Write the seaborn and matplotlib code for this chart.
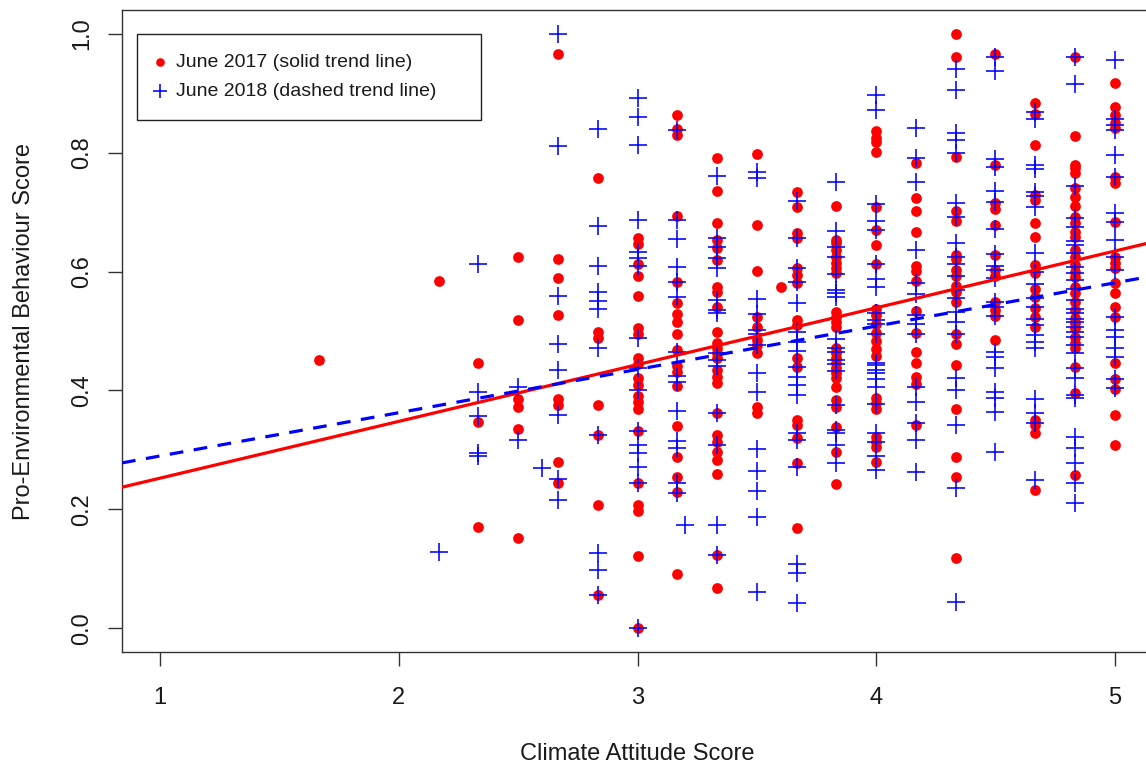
import numpy as np
import pandas as pd
import matplotlib
matplotlib.use("Agg")
import matplotlib.pyplot as plt
import seaborn as sns

# ==== Data ====
# June 2017 survey: climate attitude levels and the behaviour scores seen at each level
levels_2017 = [1.667, 2.167, 2.333, 2.5, 2.667, 2.833, 3.0, 3.167, 3.333, 3.5, 3.6,
               3.667, 3.833, 4.0, 4.167, 4.333, 4.5, 4.667, 4.833, 5.0]
scores_2017 = [
    [0.451],
    [0.584],
    [0.446, 0.347, 0.170],
    [0.625, 0.519, 0.386, 0.372, 0.335, 0.152],
    [0.966, 0.621, 0.589, 0.527, 0.386, 0.376, 0.279, 0.244],
    [0.758, 0.498, 0.488, 0.376, 0.325, 0.207, 0.056],
    [0.657, 0.647, 0.613, 0.593, 0.559, 0.505, 0.495, 0.454, 0.444, 0.421, 0.41,
     0.39, 0.38, 0.369, 0.332, 0.244, 0.207, 0.197, 0.121, 0.0],
    [0.864, 0.839, 0.83, 0.694, 0.582, 0.547, 0.528, 0.515, 0.495, 0.468, 0.441,
     0.431, 0.407, 0.34, 0.288, 0.254, 0.229, 0.091],
    [0.791, 0.736, 0.682, 0.653, 0.64, 0.62, 0.574, 0.566, 0.541, 0.498, 0.48,
     0.471, 0.463, 0.454, 0.434, 0.423, 0.412, 0.362, 0.325, 0.313, 0.296, 0.283,
     0.259, 0.123, 0.067],
    [0.798, 0.678, 0.601, 0.524, 0.507, 0.485, 0.476, 0.463, 0.372, 0.362],
    [0.574],
    [0.734, 0.709, 0.665, 0.657, 0.606, 0.594, 0.581, 0.519, 0.51, 0.454, 0.44,
     0.35, 0.342, 0.32, 0.278, 0.168],
    [0.71, 0.653, 0.648, 0.636, 0.625, 0.614, 0.606, 0.597, 0.532, 0.524, 0.515,
     0.507, 0.471, 0.463, 0.454, 0.446, 0.438, 0.429, 0.421, 0.406, 0.384, 0.372,
     0.338, 0.296, 0.242],
    [0.837, 0.825, 0.818, 0.801, 0.709, 0.67, 0.645, 0.613, 0.537, 0.527, 0.512,
     0.497, 0.483, 0.47, 0.458, 0.387, 0.379, 0.369, 0.322, 0.313, 0.305, 0.279],
    [0.783, 0.724, 0.702, 0.667, 0.609, 0.601, 0.584, 0.534, 0.497, 0.465, 0.446,
     0.423, 0.411, 0.342],
    [1.0, 0.961, 0.793, 0.702, 0.685, 0.628, 0.621, 0.603, 0.593, 0.576, 0.566,
     0.549, 0.495, 0.478, 0.443, 0.369, 0.288, 0.254, 0.118],
    [0.966, 0.779, 0.716, 0.706, 0.678, 0.628, 0.603, 0.593, 0.549, 0.535, 0.525,
     0.485],
    [0.884, 0.865, 0.813, 0.729, 0.721, 0.682, 0.658, 0.611, 0.598, 0.571, 0.557,
     0.539, 0.524, 0.507, 0.35, 0.342, 0.328, 0.232],
    [0.961, 0.828, 0.779, 0.774, 0.766, 0.741, 0.726, 0.71, 0.692, 0.682, 0.667,
     0.658, 0.636, 0.625, 0.611, 0.599, 0.591, 0.574, 0.564, 0.549, 0.535, 0.522,
     0.513, 0.505, 0.49, 0.48, 0.471, 0.439, 0.396, 0.258],
    [0.917, 0.877, 0.864, 0.85, 0.842, 0.759, 0.749, 0.684, 0.625, 0.614, 0.606,
     0.581, 0.564, 0.541, 0.524, 0.446, 0.419, 0.402, 0.359, 0.308],
]

# June 2018 survey
levels_2018 = [2.167, 2.333, 2.5, 2.6, 2.667, 2.833, 3.0, 3.167, 3.2, 3.333, 3.5,
               3.667, 3.833, 4.0, 4.167, 4.333, 4.5, 4.667, 4.833, 5.0]
scores_2018 = [
    [0.128],
    [0.613, 0.397, 0.357, 0.295, 0.29],
    [0.406, 0.317],
    [0.27],
    [1.0, 0.812, 0.559, 0.478, 0.434, 0.359, 0.251, 0.215],
    [0.839, 0.677, 0.609, 0.565, 0.55, 0.537, 0.472, 0.325, 0.127, 0.098, 0.056],
    [0.892, 0.86, 0.813, 0.686, 0.633, 0.623, 0.609, 0.488, 0.438, 0.40, 0.332,
     0.309, 0.295, 0.271, 0.244, 0.0],
    [0.838, 0.686, 0.655, 0.607, 0.582, 0.557, 0.465, 0.424, 0.414, 0.366, 0.315,
     0.303, 0.244, 0.227],
    [0.173],
    [0.76, 0.657, 0.642, 0.623, 0.606, 0.552, 0.535, 0.53, 0.463, 0.451, 0.441,
     0.362, 0.308, 0.173, 0.123],
    [0.768, 0.758, 0.554, 0.529, 0.502, 0.495, 0.476, 0.429, 0.398, 0.301, 0.265,
     0.231, 0.187, 0.061],
    [0.719, 0.657, 0.606, 0.582, 0.547, 0.498, 0.481, 0.466, 0.44, 0.422, 0.409,
     0.392, 0.328, 0.316, 0.271, 0.108, 0.093, 0.042],
    [0.751, 0.668, 0.642, 0.625, 0.596, 0.569, 0.564, 0.557, 0.487, 0.471, 0.465,
     0.451, 0.444, 0.433, 0.375, 0.333, 0.328, 0.308, 0.278],
    [0.897, 0.872, 0.714, 0.685, 0.67, 0.613, 0.588, 0.574, 0.53, 0.519, 0.512,
     0.495, 0.446, 0.443, 0.434, 0.429, 0.419, 0.406, 0.377, 0.328, 0.313, 0.29,
     0.266],
    [0.842, 0.791, 0.75, 0.636, 0.581, 0.562, 0.527, 0.512, 0.495, 0.406, 0.381,
     0.345, 0.316, 0.263],
    [0.941, 0.906, 0.833, 0.822, 0.8, 0.716, 0.692, 0.648, 0.625, 0.613, 0.593,
     0.569, 0.556, 0.532, 0.515, 0.495, 0.421, 0.401, 0.342, 0.236, 0.044],
    [0.961, 0.938, 0.79, 0.776, 0.736, 0.717, 0.672, 0.63, 0.609, 0.603, 0.589,
     0.549, 0.54, 0.525, 0.465, 0.456, 0.438, 0.397, 0.387, 0.364, 0.296],
    [0.869, 0.857, 0.779, 0.773, 0.734, 0.727, 0.709, 0.631, 0.599, 0.579, 0.556,
     0.54, 0.52, 0.51, 0.493, 0.481, 0.471, 0.386, 0.362, 0.345, 0.249],
    [0.961, 0.916, 0.744, 0.69, 0.675, 0.652, 0.645, 0.631, 0.608, 0.598, 0.586,
     0.571, 0.552, 0.537, 0.53, 0.52, 0.515, 0.507, 0.498, 0.49, 0.476, 0.463,
     0.438, 0.421, 0.392, 0.387, 0.322, 0.303, 0.278, 0.244, 0.21],
    [0.956, 0.857, 0.847, 0.838, 0.796, 0.759, 0.699, 0.684, 0.653, 0.625, 0.603,
     0.524, 0.502, 0.49, 0.471, 0.456, 0.419, 0.404],
]

# trend lines (intercept, slope) as drawn in the reference
trend_2017 = (0.157, 0.0955)
trend_2018 = (0.217, 0.0728)

x_ticks = [1, 2, 3, 4, 5]
y_ticks = [0.0, 0.2, 0.4, 0.6, 0.8, 1.0]
y_tick_labels = ["0.0", "0.2", "0.4", "0.6", "0.8", "1.0"]


def to_frame(levels, scores):
    rows = [(lv, s) for lv, col in zip(levels, scores) for s in col]
    return pd.DataFrame(rows, columns=["attitude", "behaviour"])


df17 = to_frame(levels_2017, scores_2017)
df18 = to_frame(levels_2018, scores_2018)

# ==== Plot ====
sns.set_style("ticks")
plt.rcParams["font.family"] = ["Liberation Sans", "DejaVu Sans"]

fig = plt.figure(figsize=(11.46, 7.67), dpi=100)
ax = fig.add_axes([122 / 1146, 115 / 767, 1031 / 1146, 642 / 767])

sns.scatterplot(data=df17, x="attitude", y="behaviour", ax=ax, color="red",
                marker="o", s=60, linewidth=0, label="June 2017 (solid trend line)",
                zorder=2)
sns.scatterplot(data=df18, x="attitude", y="behaviour", ax=ax, color="blue",
                marker="+", s=180, linewidth=1.15, label="June 2018 (dashed trend line)",
                zorder=3)

ax.axline((0, trend_2017[0]), slope=trend_2017[1], color="red", lw=2.3, zorder=4)
ax.axline((0, trend_2018[0]), slope=trend_2018[1], color="blue", lw=2.3,
          linestyle=(0, (4.3, 3.3)), zorder=5)

ax.set_xlim(0.84, 5.16)
ax.set_ylim(-0.04, 1.04)
ax.set_xticks(x_ticks)
ax.set_yticks(y_ticks)
ax.set_yticklabels(y_tick_labels, rotation=90, va="center")

for sp in ax.spines.values():
    sp.set_visible(True)
    sp.set_color("#333333")
    sp.set_linewidth(1.0)

ax.tick_params(axis="both", direction="out", length=10, width=1.0, color="#333333",
               labelsize=17, labelcolor="#1a1a1a", bottom=True, left=True)
ax.tick_params(axis="x", pad=15)
ax.tick_params(axis="y", pad=11)

ax.set_xlabel("Climate Attitude Score", fontsize=17, color="#1a1a1a", labelpad=25)
ax.set_ylabel("Pro-Environmental Behaviour Score", fontsize=17, color="#1a1a1a",
              labelpad=25.5)

leg = ax.legend(loc="upper left", bbox_to_anchor=(15 / 1031, 1 - 24 / 642, 344 / 1031, 0.0),
                mode="expand", borderaxespad=0, fontsize=14, frameon=True,
                fancybox=False, edgecolor="#222222", framealpha=1, borderpad=1.0,
                handlelength=0.4, handletextpad=0.6, labelspacing=0.6, markerscale=0.8)
leg.get_frame().set_linewidth(1.0)
for t in leg.get_texts():
    t.set_color("#1a1a1a")

fig.savefig("out.png", dpi=100)
